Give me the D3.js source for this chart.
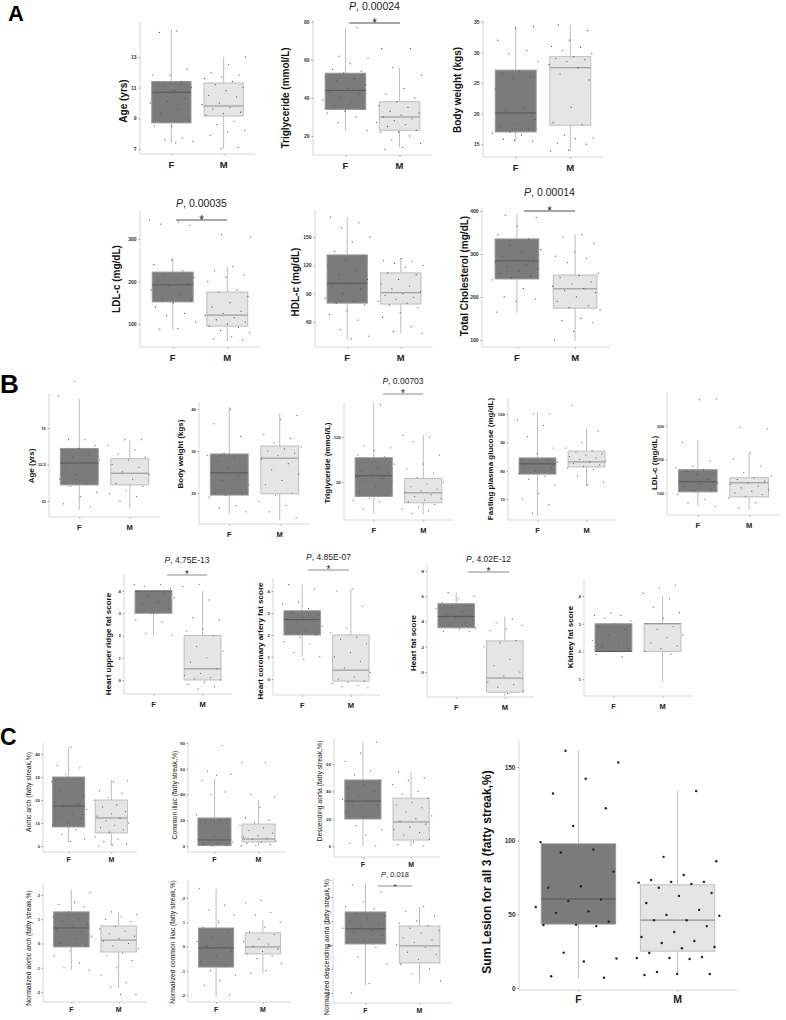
<!DOCTYPE html>
<html>
<head>
<meta charset="utf-8">
<script src="https://cdn.jsdelivr.net/npm/d3@7"></script>
<style>
  body { margin: 0; background: #fff; }
  svg { display: block; font-family: "Liberation Sans", Arial, sans-serif; }
</style>
</head>
<body>
<svg id="fig" width="786" height="1020"></svg>
<script>
// ---- data ----
const groups = ['F', 'M'];

const yLabels = [
  'Age (yrs)', 'Triglyceride  (mmol/L)', 'Body weight (kgs)',
  'LDL-c (mg/dL)', 'HDL-c (mg/dL)', 'Total Cholesterol (mg/dL)',
  'Age (yrs)', 'Body weight (kgs)', 'Triglyceride (mmol/L)', 'Fasting plasma glucose (mg/dL)', 'LDL-c (mg/dL)',
  'Heart upper ridge fat score', 'Heart coronary artery fat score', 'Heart fat score', 'Kidney fat score',
  'Aortic  arch (fatty streak,%)', 'Common iliac (fatty streak,%)', 'Descending aorta (fatty streak,%)',
  'Normalized aortic arch (fatty streak,%)', 'Normalized common iliac (fatty streak,%)',
  'Normalized descending aorta (fatty streak,%)', 'Sum Lesion for all 3 (fatty streak,%)'
];

const yTicks = [
  [7, 9, 11, 13], [20, 40, 60, 80], [15, 20, 25, 30, 35],
  [100, 200, 300], [60, 90, 120, 150], [100, 200, 300, 400],
  [10, 12.5, 15], [20, 30, 40], [50, 100], [70, 80, 90, 100], [100, 200, 300],
  [0, 1, 2, 3, 4], [0, 1, 2, 3, 4], [0, 2, 4, 6, 8], [1, 2, 3, 4],
  [0, 10, 20, 30, 40], [0, 20, 40, 60, 80], [0, 20, 40, 60],
  [-2, -1, 0, 1, 2], [-2, -1, 0, 1, 2], [-2, -1, 0, 1, 2], [0, 50, 100, 150]
];

// box stats: [low whisker, q1, median, q3, high whisker]
const femaleBox = [
  [7.4, 8.7, 10.7, 11.4, 14.8], [23, 34, 44, 53, 77], [15.5, 17, 20.1, 27.1, 34.2],
  [86, 152, 192, 222, 255], [41, 80, 101, 131, 171], [163, 242, 284, 335, 393],
  [9.4, 11.1, 12.6, 13.6, 17.0], [15, 19.5, 24.8, 29.3, 40.5], [15, 34, 57, 77, 138],
  [64, 78.8, 82.4, 84.5, 100.7], [60, 103, 133, 169, 258],
  [2, 3, 4, 4, 4], [1, 2, 2.7, 3.1, 4.3], [3.4, 3.5, 4.4, 5.4, 6.3], [2, 2, 2, 3, 3],
  [1.7, 8.3, 17.4, 30, 43], [0, 0.3, 4.7, 21.7, 52], [0, 19.8, 32.9, 48.3, 76],
  [-1.09, -0.14, 0.64, 1.3, 2.2], [-2.08, -0.85, -0.06, 0.76, 2.37], [-1.67, 0.04, 0.67, 1.375, 2.58],
  [6.8, 43.4, 60.4, 97.8, 161]
];
const maleBox = [
  [7.0, 9.15, 9.8, 11.3, 13.0], [14, 23, 30, 38, 56], [13.9, 18.1, 27.5, 29.3, 34.5],
  [60, 95, 121, 175, 234], [48, 79, 91, 112, 127], [98, 174, 219, 251, 346],
  [9.5, 11.1, 11.9, 12.9, 14.2], [13.5, 19.8, 28.3, 31.2, 39], [14, 27, 38, 54, 102],
  [74.6, 81.3, 83.1, 86.9, 94.7], [50, 88, 130, 145, 219],
  [0, 0, 0.5, 2, 4], [-0.1, -0.1, 0.4, 2, 4.1], [-1.9, -1.6, -0.48, 2.46, 4.4], [0.9, 2, 3, 3, 4],
  [0, 5.7, 12.2, 20, 28.7], [0, 3.1, 5.4, 17, 35.7], [0, 4.4, 17.6, 35, 54],
  [-1.84, -0.35, 0.14, 0.72, 1.3], [-1.09, -0.31, -0.02, 0.56, 1.09], [-1.58, -0.75, -0.04, 0.79, 1.58],
  [8.8, 25, 46, 70, 133.7]
];

const femalePts = [
  [14.7, 14.6, 12.2, 11.8, 11.8, 11.4, 11.2, 11.0, 10.8, 10.6, 10.3, 10.1, 10.0, 9.6, 9.3, 8.9, 8.5, 8.5, 7.7, 7.6, 7.5, 7.4],
  [77, 62, 61, 58, 55, 54, 53, 51, 50, 49, 47, 45, 43, 42, 40, 39, 38, 36, 34, 33, 32, 30, 27, 23],
  [34.2, 34, 32, 30.3, 29.8, 28.5, 27, 26.5, 26, 25.8, 24, 21, 20.5, 19, 18.2, 17.8, 17.5, 17, 16.8, 16.5, 15.8, 15.5, 15.6],
  [345, 340, 335, 332, 250, 240, 225, 215, 210, 205, 200, 195, 190, 180, 170, 160, 155, 150, 140, 125, 120, 105, 90, 88],
  [171, 165, 160, 150, 145, 135, 130, 125, 120, 115, 110, 105, 100, 98, 95, 90, 85, 82, 80, 78, 72, 68, 62, 52, 45, 42],
  [390, 385, 365, 345, 335, 320, 310, 305, 295, 290, 285, 280, 275, 270, 265, 260, 255, 250, 245, 240, 220, 200, 195, 190, 165],
  [18.2, 17.2, 14.2, 14.2, 13.8, 13.6, 13.5, 13.2, 13.0, 12.8, 12.6, 12.2, 12.0, 11.8, 11.5, 11.2, 11.0, 10.6, 10.3, 9.8, 9.6],
  [40, 36.5, 33.5, 29.5, 29, 28.5, 27.5, 26.5, 26, 25, 24, 23, 22, 21, 20, 19.8, 19.5, 19, 17, 16.5, 15.5],
  [136, 90, 88, 85, 80, 78, 75, 70, 66, 62, 60, 58, 56, 54, 52, 50, 45, 40, 35, 32, 30, 28, 20],
  [100, 100, 98, 96, 92, 88, 86, 84, 84, 83.5, 83, 82.5, 82, 81, 80, 79, 78, 77, 75, 72, 70, 68, 65],
  [380, 378, 250, 195, 180, 175, 170, 165, 160, 155, 150, 140, 135, 130, 125, 120, 110, 105, 95, 80, 70, 60],
  [4.3, 4.3, 4.2, 4.1, 4.0, 4.0, 3.9, 3.8, 3.7, 3.5, 3.4, 3.2, 3.0, 2.7, 2.6, 2.1, 2.0],
  [4.3, 4.1, 3.5, 3.4, 3.2, 3.0, 2.9, 2.8, 2.7, 2.6, 2.5, 2.4, 2.2, 2.1, 2.0, 1.9, 1.7, 1.6, 1.2, 1.0, 0.9],
  [6.3, 6.0, 5.8, 5.5, 5.3, 5.1, 5.0, 4.8, 4.6, 4.4, 4.3, 4.1, 3.9, 3.7, 3.5, 3.4, 3.2, 3.2],
  [3.4, 3.3, 3.3, 3.2, 3.1, 3.0, 2.9, 2.8, 2.6, 2.4, 2.3, 2.2, 2.1, 2.0, 1.9, 1.8],
  [43, 35, 34, 31, 28, 26, 24, 22, 21, 19, 18, 17, 16, 14, 13, 12, 10, 9, 7, 5, 3, 2],
  [78, 58, 56, 55, 51, 42, 40, 24, 20, 18, 12, 8, 6, 5, 4, 3, 2, 1, 0.5, 0],
  [76, 68, 62, 55, 52, 48, 45, 42, 40, 36, 34, 33, 32, 30, 28, 25, 22, 15, 12, 8, 2, 0],
  [2.1, 1.7, 1.6, 1.5, 1.3, 1.1, 1.0, 0.9, 0.8, 0.7, 0.6, 0.5, 0.4, 0.3, 0.2, 0.0, -0.1, -0.3, -0.5, -0.8, -1.0, -1.1],
  [2.4, 1.7, 1.5, 1.3, 1.0, 0.8, 0.6, 0.4, 0.2, 0.1, 0.0, -0.2, -0.4, -0.6, -0.8, -1.0, -1.2, -1.4, -1.6, -2.0],
  [2.5, 2.2, 1.8, 1.6, 1.5, 1.3, 1.2, 1.1, 1.0, 0.9, 0.8, 0.7, 0.6, 0.5, 0.4, 0.2, 0.1, -0.1, -0.5, -0.8, -1.6, -2.0],
  [161, 153, 142, 132, 122, 110, 99, 94, 92, 79, 69, 68, 60, 59, 55, 52, 51, 45, 43, 42.8, 42, 24, 20, 18, 8, 7]
];
const malePts = [
  [13.0, 12.5, 12.0, 11.8, 11.7, 11.6, 11.4, 11.2, 11.0, 10.8, 10.5, 10.4, 10.0, 9.9, 9.7, 9.6, 9.4, 9.3, 9.2, 8.8, 8.6, 8.2, 8.1, 7.9, 7.1, 7.0],
  [66, 66, 56, 52, 45, 42, 40, 38, 36, 35, 33, 32, 31, 30, 29, 28, 27, 26, 25, 23, 22, 22, 20, 18, 16, 14, 13],
  [34.5, 33.6, 32, 31, 30.8, 30.3, 29.8, 29.3, 29, 28.8, 28.5, 28, 27.5, 26.5, 25.5, 21, 18.5, 18.2, 16.5, 16, 15.9, 15.2, 15, 14, 13.9],
  [310, 305, 235, 225, 215, 210, 200, 180, 175, 165, 150, 140, 130, 125, 120, 115, 110, 105, 100, 95, 92, 85, 80, 70, 65, 62],
  [127, 125, 124, 122, 120, 118, 112, 110, 105, 100, 98, 95, 92, 90, 88, 86, 84, 82, 80, 78, 75, 70, 65, 55, 50, 48],
  [345, 340, 325, 305, 295, 290, 280, 255, 250, 245, 235, 230, 225, 220, 215, 210, 200, 190, 180, 175, 170, 150, 145, 140, 120, 100],
  [14.2, 14.2, 13.8, 13.5, 13.2, 13.0, 12.8, 12.5, 12.3, 12.0, 11.8, 11.5, 11.2, 11.0, 10.7, 10.5, 10.3, 10.0],
  [38.5, 37.5, 34, 33, 32, 31, 30.5, 30, 29.5, 29, 28, 27, 25.5, 24.5, 23, 22, 20, 19.5, 18, 17, 15.5, 14],
  [102, 100, 95, 80, 70, 65, 60, 55, 50, 48, 45, 42, 40, 38, 36, 34, 32, 30, 28, 25, 22, 20, 18, 15],
  [103, 94, 90, 88, 87, 86.5, 86, 85.5, 85, 84.5, 84, 83.5, 83, 82.5, 82, 81.5, 81, 80.5, 78, 76, 75],
  [295, 292, 220, 200, 180, 160, 150, 145, 140, 135, 130, 125, 120, 115, 110, 105, 100, 95, 90, 85, 70, 55],
  [4.3, 4.2, 3.6, 2.8, 2.7, 2.3, 2.2, 2.0, 1.5, 1.3, 1.0, 0.8, 0.5, 0.3, 0.2, 0.1, 0.05, 0.0, -0.1, -0.2, -0.3, -0.4],
  [4.1, 4.0, 3.3, 2.3, 2.1, 1.9, 1.8, 1.6, 1.2, 1.0, 0.8, 0.5, 0.3, 0.1, 0.0, -0.1, -0.15, -0.2, -0.3, -0.35, -0.4],
  [4.2, 3.9, 3.7, 3.4, 3.3, 2.5, 2.3, 2.0, 1.0, 0.5, 0.0, -0.3, -0.8, -1.0, -1.2, -1.5, -1.7],
  [4.4, 4.3, 4.1, 3.9, 3.6, 3.4, 3.2, 3.0, 2.9, 2.8, 2.6, 2.5, 2.3, 2.2, 2.1, 2.0, 1.9],
  [28.5, 28, 24, 23, 21, 20, 18, 17, 15, 14, 13, 12, 11, 10, 9, 8, 7, 6, 4, 3, 2, 1, 0.5, 0],
  [65, 65, 40, 38, 30, 22, 20, 18, 16, 14, 12, 10, 8, 7, 6, 5, 4, 3, 2, 1, 0.5, 0],
  [54, 50, 48, 45, 40, 38, 35, 32, 30, 28, 25, 22, 20, 18, 16, 14, 12, 10, 8, 5, 3, 1, 0],
  [1.3, 1.2, 1.1, 1.0, 0.9, 0.7, 0.6, 0.5, 0.4, 0.3, 0.2, 0.1, 0.0, -0.1, -0.2, -0.4, -0.5, -0.7, -1.0, -1.3, -1.6, -1.8, -2.1, -2.1],
  [1.9, 1.8, 1.4, 1.3, 1.0, 0.8, 0.6, 0.5, 0.3, 0.2, 0.1, 0.0, -0.1, -0.2, -0.3, -0.4, -0.5, -0.7, -1.0, -1.1],
  [1.6, 1.4, 1.2, 1.0, 0.9, 0.8, 0.7, 0.6, 0.5, 0.3, 0.2, 0.1, 0.0, -0.1, -0.3, -0.4, -0.6, -0.8, -1.0, -1.2, -1.5],
  [133.7, 89, 86, 76.7, 73.3, 72, 72, 71.5, 70.6, 68, 64.5, 62.5, 57.7, 53, 49.6, 49, 46, 46, 42, 38, 34.6, 31.9, 30.5, 27.8, 27, 23.8, 21, 20.4, 20.4, 19.7, 10.9, 9.5, 9.5, 8.8]
];

const pValues = [null, '0.00024', null, '0.00035', null, '0.00014',
  null, null, '0.00703', null, null,
  '4.75E-13', '4.85E-07', '4.02E-12', null,
  null, null, null, null, null, '0.018', null];

const sectionLetters = ['A', 'B', 'C'];

// ---- layout (pixels) ----
// x0,x1,y0,y1: plot frame; dom: y value at bottom / top of frame; lx,ly: y-label centre; sig: [x0,x1,lineY,textY]
const layout = [
  { x0: 140, x1: 255, y0: 22, y1: 154, dom: [6.67, 15.28], s: 'A', lx: 123, ly: 101 },
  { x0: 313, x1: 432, y0: 20, y1: 155, dom: [10, 81], s: 'A', lx: 285, ly: 98, sig: [349, 400, 23, 10] },
  { x0: 483, x1: 603, y0: 20, y1: 157, dom: [12.9, 35.3], s: 'A', lx: 457, ly: 90 },
  { x0: 140, x1: 260, y0: 210, y1: 347, dom: [46, 368], s: 'A', lx: 116, ly: 279, sig: [176, 227, 220, 207] },
  { x0: 315, x1: 433, y0: 210, y1: 347, dom: [33.5, 178.6], s: 'A', lx: 295, ly: 282 },
  { x0: 482, x1: 610, y0: 208, y1: 347, dom: [83.7, 407], s: 'A', lx: 464, ly: 276, sig: [524, 575, 211, 196] },
  { x0: 49, x1: 160, y0: 393, y1: 517, dom: [8.9, 17.4], s: 'B', lx: 31, ly: 466 },
  { x0: 199, x1: 310, y0: 402, y1: 524, dom: [12.6, 41.7], s: 'B', lx: 180, ly: 454 },
  { x0: 344, x1: 453, y0: 402, y1: 520, dom: [7.8, 139], s: 'B', lx: 327, ly: 463, sig: [383, 423, 394, 384] },
  { x0: 508, x1: 616, y0: 399, y1: 520, dom: [62.6, 105.3], s: 'B', lx: 490, ly: 459 },
  { x0: 667, x1: 780, y0: 393, y1: 515, dom: [34, 398], s: 'B', lx: 654, ly: 463 },
  { x0: 124, x1: 232, y0: 575, y1: 694, dom: [-0.63, 4.72], s: 'B', lx: 108, ly: 644, sig: [167, 207, 575, 563] },
  { x0: 273, x1: 380, y0: 578, y1: 695, dom: [-0.73, 4.59], s: 'B', lx: 260, ly: 641, sig: [308, 349, 570, 560] },
  { x0: 427, x1: 534, y0: 565, y1: 697, dom: [-1.98, 8.47], s: 'B', lx: 413, ly: 643, sig: [468, 509, 572, 562] },
  { x0: 584, x1: 692, y0: 580, y1: 696, dom: [0.39, 4.58], s: 'B', lx: 570, ly: 637 },
  { x0: 43, x1: 137, y0: 743, y1: 852, dom: [-2.6, 44.8], s: 'C', lx: 29, ly: 792 },
  { x0: 188, x1: 285, y0: 742, y1: 852, dom: [-4.7, 80.8], s: 'C', lx: 175, ly: 795 },
  { x0: 334, x1: 440, y0: 738, y1: 857, dom: [-8, 79], s: 'C', lx: 320, ly: 791 },
  { x0: 43, x1: 147, y0: 883, y1: 1002, dom: [-2.41, 2.49], s: 'C', lx: 29, ly: 948 },
  { x0: 188, x1: 291, y0: 880, y1: 1002, dom: [-2.29, 2.74], s: 'C', lx: 173, ly: 942 },
  { x0: 333, x1: 452, y0: 878, y1: 1003, dom: [-2.42, 2.79], s: 'C', lx: 327, ly: 947, sig: [378, 412, 886, 877] },
  { x0: 519, x1: 737, y0: 740, y1: 990, dom: [-1.36, 168.3], s: 'D', lx: 487, ly: 872 }
];

const styles = {
  A: { label: 10, weight: 'bold', tick: 5, tpad: 2, grp: 9.5, grpOff: 14, p: 10.5, star: 12, sigW: 1.6, r: 0.65, dot: '#555' },
  B: { label: 8, weight: 'bold', tick: 4.3, tpad: 1.5, grp: 7.5, grpOff: 13, p: 8.5, star: 10, sigW: 1.2, r: 0.6, dot: '#555' },
  C: { label: 6.8, weight: 'normal', tick: 4.2, tpad: 1.5, grp: 7, grpOff: 10, p: 7.5, star: 8, sigW: 1, r: 0.6, dot: '#555' },
  D: { label: 12, weight: 'bold', tick: 6.5, tpad: 2, grp: 10.5, grpOff: 13, p: 10, star: 10, sigW: 1, r: 1.2, dot: '#222' }
};

const letterPos = [[8, 21, 22], [0, 393, 26], [0, 745, 23]];

const fillCol = { F: '#7b7b7b', M: '#e5e5e5' };
const edgeCol = { F: '#979797', M: '#bdbdbd' };
const medCol = { F: '#555', M: '#8e8e8e' };

// ---- drawing ----
const svg = d3.select('#fig');

sectionLetters.forEach((t, i) => {
  svg.append('text')
    .attr('x', letterPos[i][0]).attr('y', letterPos[i][1])
    .attr('font-size', letterPos[i][2]).attr('font-weight', 'bold')
    .text(t);
});

layout.forEach((L, i) => {
  const st = styles[L.s];
  const g = svg.append('g').attr('class', 'panel');

  const x = d3.scalePoint().domain(groups).range([L.x0, L.x1]).padding(0.6);
  const y = d3.scaleLinear().domain(L.dom).range([L.y1, L.y0]);
  const bw = x.step() * 0.75;

  // y axis
  const ya = g.append('g')
    .attr('transform', `translate(${L.x0},0)`)
    .call(d3.axisLeft(y).tickValues(yTicks[i]).tickFormat(d => String(d))
      .tickSize(1.5).tickSizeOuter(0).tickPadding(st.tpad));
  ya.select('.domain').attr('stroke', '#d6d6d6').attr('d', `M0,${L.y0}V${L.y1}`);
  ya.selectAll('.tick line').attr('stroke', '#999');
  ya.selectAll('.tick text').attr('font-size', st.tick).attr('font-weight', 'bold').attr('fill', '#333')
    .attr('font-family', '"Liberation Sans", Arial, sans-serif');

  // x axis
  const xa = g.append('g')
    .attr('transform', `translate(0,${L.y1})`)
    .call(d3.axisBottom(x).tickSize(2).tickSizeOuter(0).tickFormat(''));
  xa.select('.domain').attr('stroke', '#d6d6d6').attr('d', `M${L.x0},0H${L.x1}`);
  xa.selectAll('.tick line').attr('stroke', '#bbb');

  g.selectAll('.grp').data(groups).join('text')
    .attr('class', 'grp')
    .attr('x', d => x(d)).attr('y', L.y1 + st.grpOff)
    .attr('text-anchor', 'middle')
    .attr('font-size', st.grp).attr('font-weight', 'bold').attr('fill', '#222')
    .text(d => d);

  // y label
  g.append('text')
    .attr('transform', `translate(${L.lx},${L.ly}) rotate(-90)`)
    .attr('text-anchor', 'middle').attr('dy', '0.35em')
    .attr('font-size', st.label).attr('font-weight', st.weight).attr('fill', '#111')
    .text(yLabels[i]);

  // boxes
  const stats = { F: femaleBox[i], M: maleBox[i] };
  const pts = { F: femalePts[i], M: malePts[i] };

  groups.forEach((k, gi) => {
    const [lo, q1, med, q3, hi] = stats[k];
    const cx = x(k);
    g.append('line').attr('x1', cx).attr('x2', cx).attr('y1', y(hi)).attr('y2', y(q3))
      .attr('stroke', '#bcbcbc').attr('stroke-width', 1);
    g.append('line').attr('x1', cx).attr('x2', cx).attr('y1', y(q1)).attr('y2', y(lo))
      .attr('stroke', '#bcbcbc').attr('stroke-width', 1);
    g.append('rect')
      .attr('x', cx - bw / 2).attr('width', bw)
      .attr('y', y(q3)).attr('height', Math.max(0.5, y(q1) - y(q3)))
      .attr('fill', fillCol[k]).attr('stroke', edgeCol[k]).attr('stroke-width', 1);
    g.append('line').attr('x1', cx - bw / 2).attr('x2', cx + bw / 2).attr('y1', y(med)).attr('y2', y(med))
      .attr('stroke', medCol[k]).attr('stroke-width', L.s === 'D' ? 1.2 : 1);

    // jittered points, deterministic spread
    const jw = bw * 1.15;
    g.selectAll(null).data(pts[k]).join('circle')
      .attr('cx', (d, j) => cx + ((((j + 1) * 0.6180339887 + gi * 0.37 + i * 0.13) % 1) - 0.5) * jw)
      .attr('cy', d => y(d))
      .attr('r', st.r)
      .attr('fill', st.dot);
  });

  // significance
  if (pValues[i] && L.sig) {
    const [sx0, sx1, sy, ty] = L.sig;
    g.append('line').attr('x1', sx0).attr('x2', sx1).attr('y1', sy).attr('y2', sy)
      .attr('stroke', '#8a8a8a').attr('stroke-width', st.sigW);
    g.append('text').attr('x', (sx0 + sx1) / 2).attr('y', sy + st.star * 0.32)
      .attr('text-anchor', 'middle').attr('font-size', st.star).attr('fill', '#222').text('*');
    const t = g.append('text').attr('x', (sx0 + sx1) / 2).attr('y', ty)
      .attr('text-anchor', 'middle').attr('font-size', st.p).attr('fill', '#222');
    t.append('tspan').attr('font-style', 'italic').text('P');
    t.append('tspan').text(', ' + pValues[i]);
  }
});
</script>
</body>
</html>
